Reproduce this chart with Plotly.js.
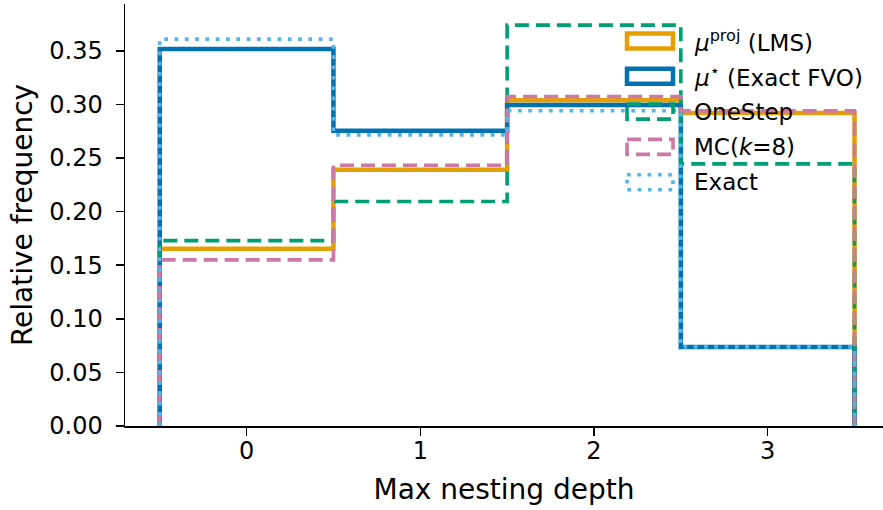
<!DOCTYPE html>
<html>
<head>
<meta charset="utf-8">
<script src="https://cdn.plot.ly/plotly-3.0.1.min.js"></script>
<style>html,body{margin:0;padding:0;background:#fff;}#chart{width:883px;height:510px;}</style>
</head>
<body>
<div id="chart"></div>
<script>
// Data
const binEdges = [-0.5, 0.5, 1.5, 2.5, 3.5];
const tickVals = [0, 1, 2, 3];
const tickText = ["0", "1", "2", "3"];
const seriesNames = ["μproj (LMS)", "μ* (Exact FVO)", "OneStep", "MC(k=8)", "Exact"];
const lmsValues = [0.1655, 0.239, 0.304, 0.292];
const fvoValues = [0.3517, 0.2756, 0.2995, 0.0738];
const oneStepValues = [0.173, 0.2095, 0.374, 0.2446];
const mcValues = [0.155, 0.2433, 0.3075, 0.294];
const exactValues = [0.361, 0.2716, 0.2942, 0.0738];

const W = 883, H = 510;
const L = 125, R = 0, T = 4, B = 84;

const styles = [
  {vals: lmsValues, color: "#E69F00", width: 4.5, dash: "solid", label: "<i>μ</i><sup>proj</sup> (LMS)"},
  {vals: fvoValues, color: "#0072B2", width: 4.5, dash: "solid", label: "<i>μ</i><sup>⋆</sup> (Exact FVO)"},
  {vals: oneStepValues, color: "#009E73", width: 3.6, dash: "14px,7px", label: "OneStep"},
  {vals: mcValues, color: "#CC79A7", width: 3.6, dash: "14px,7px", label: "MC(<i>k</i>=8)"},
  {vals: exactValues, color: "#56B4E9", width: 3.6, dash: "3.7px,6.6px", label: "Exact"}
];

function stepPath(edges, vals) {
  const xs = [edges[0]], ys = [0];
  for (let i = 0; i < vals.length; i++) {
    xs.push(edges[i]); ys.push(vals[i]);
    xs.push(edges[i + 1]); ys.push(vals[i]);
  }
  xs.push(edges[edges.length - 1]); ys.push(0);
  return {xs, ys};
}

const traces = styles.map((s, i) => {
  const p = stepPath(binEdges, s.vals);
  return {
    type: "scatter", mode: "lines", x: p.xs, y: p.ys, name: seriesNames[i],
    line: {color: s.color, width: s.width, dash: s.dash, shape: "linear"},
    showlegend: false, hoverinfo: "skip"
  };
});

// manual legend (patch-style handles)
const pw = W - L - R, ph = H - T - B;
const px = x => (x - L) / pw;
const py = y => (H - B - y) / ph;
const shapes = [], annotations = [];
const rowY0 = 41, rowStep = 35.3;
styles.forEach((s, i) => {
  const cy = rowY0 + i * rowStep;
  shapes.push({
    type: "rect", xref: "paper", yref: "paper",
    x0: px(627), x1: px(673), y0: py(cy - 7.5), y1: py(cy + 7.5),
    line: {color: s.color, width: s.width, dash: s.dash}, fillcolor: "rgba(0,0,0,0)"
  });
  annotations.push({
    xref: "paper", yref: "paper", x: px(692), y: py(cy), xanchor: "left", yanchor: "middle",
    text: s.label, showarrow: false, font: {size: 23, color: "#000"}
  });
});

const layout = {
  width: W, height: H,
  margin: {l: L, r: R, t: T, b: B, pad: 0},
  paper_bgcolor: "#fff", plot_bgcolor: "#fff",
  font: {family: "DejaVu Sans", color: "#000", size: 24},
  showlegend: false,
  xaxis: {
    range: [-0.7, 3.664], tickvals: tickVals, ticktext: tickText,
    showline: true, linecolor: "#000", linewidth: 1.5, mirror: false,
    ticks: "outside", ticklen: 8, tickwidth: 1.5, tickcolor: "#000",
    showgrid: false, zeroline: false, tickfont: {size: 24},
    ticklabelstandoff: -5,
    title: {text: "Max nesting depth", font: {size: 28}, standoff: 15}
  },
  yaxis: {
    range: [0, 0.39375], dtick: 0.05, tick0: 0, tickformat: ".2f",
    showline: true, linecolor: "#000", linewidth: 1.5,
    ticks: "outside", ticklen: 8, tickwidth: 1.5, tickcolor: "#000",
    showgrid: false, zeroline: false, tickfont: {size: 24},
    ticklabelstandoff: 8,
    title: {text: "Relative frequency", font: {size: 28}, standoff: 8}
  },
  shapes: shapes,
  annotations: annotations
};

Plotly.newPlot("chart", traces, layout, {staticPlot: true, displayModeBar: false});
</script>
</body>
</html>
